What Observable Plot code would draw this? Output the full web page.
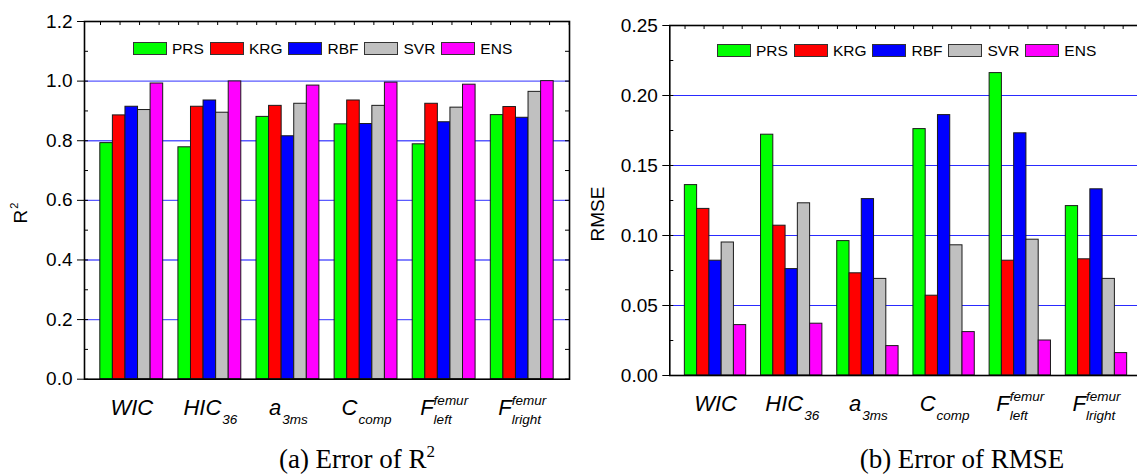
<!DOCTYPE html>
<html><head><meta charset="utf-8">
<script src="https://cdn.jsdelivr.net/npm/d3@7"></script>
<script src="https://cdn.jsdelivr.net/npm/@observablehq/plot@0.6"></script>
<style>
html,body{margin:0;padding:0;background:#fff;overflow:hidden;}
#root{position:relative;width:1137px;height:474px;overflow:hidden;font-family:"Liberation Sans",Arial,sans-serif;color:#000;}
.panel{position:absolute;top:0;}
.panel svg{max-width:none !important;display:block;}
.legend{position:absolute;display:flex;align-items:center;font-size:15.5px;line-height:13px;white-space:nowrap;}
.legend .item{display:flex;align-items:center;margin-right:6px;}
.legend .sw{width:32px;height:11px;border:1px solid #333;margin-right:5px;}
.ylab{position:absolute;font-size:19px;line-height:19px;transform:translate(-50%,-50%) rotate(-90deg);white-space:nowrap;}
.ylab .sp{font-size:11px;position:relative;top:-9px;margin-left:1px;}
.cap{position:absolute;font-family:"Liberation Serif","Times New Roman",serif;font-size:27px;line-height:27px;transform:translateX(-50%);white-space:nowrap;}
.cap .sp{font-size:17px;position:relative;top:-11px;}
</style></head><body><div id="root"></div>
<script>
// ---- data ----
const categories = ["WIC","HIC36","a3ms","Ccomp","Fleft","Fright"];
const labelBase = ["WIC","HIC","a","C","F","F"];
const labelSub  = ["","36","3ms","comp","left","lright"];
const labelSup  = ["","","","","femur","femur"];
const models = ["PRS","KRG","RBF","SVR","ENS"];
const modelColors = ["#00ff00","#ff0000","#0000ff","#c0c0c0","#ff00ff"];

const r2PRS = [0.792,0.778,0.880,0.855,0.788,0.886];
const r2KRG = [0.885,0.914,0.917,0.935,0.924,0.913];
const r2RBF = [0.914,0.935,0.815,0.856,0.862,0.877];
const r2SVR = [0.903,0.894,0.924,0.917,0.911,0.964];
const r2ENS = [0.992,0.999,0.985,0.995,0.988,1.000];

const rmsePRS = [0.136,0.172,0.096,0.176,0.216,0.121];
const rmseKRG = [0.119,0.107,0.073,0.057,0.082,0.083];
const rmseRBF = [0.082,0.076,0.126,0.186,0.173,0.133];
const rmseSVR = [0.095,0.123,0.069,0.093,0.097,0.069];
const rmseENS = [0.036,0.037,0.021,0.031,0.025,0.016];

const r2Ticks = [0,0.2,0.4,0.6,0.8,1.0,1.2];
const r2Grid = [0.2,0.4,0.6,0.8,1.0];
const rmseTicks = [0,0.05,0.10,0.15,0.20,0.25];
const rmseGrid = [0.05,0.10,0.15,0.20];

// ---- helpers ----
const barW = 0.161;
function table(series) {
  const rows = [];
  series.forEach((vals, m) => vals.forEach((v, g) => rows.push({group: g, mi: m, model: models[m], value: v})));
  return rows;
}

function makeChart(o) {
  const plotH = o.height - o.mT - o.mB;
  const plotW = o.width - o.mL - o.mR;
  const yMax = o.yDomain[1];
  const xMin = o.xDomain[0], xMax = o.xDomain[1];
  const tickY = yMax / plotH * 4;
  const tickX = (xMax - xMin) / plotW * 4;
  const minor = d3.range(0, yMax + 1e-9, o.minorStep);
  const topTicks = d3.range(-0.4, xMax, 0.25);
  return Plot.plot({
    width: o.width, height: o.height,
    marginLeft: o.mL, marginRight: o.mR, marginTop: o.mT, marginBottom: o.mB,
    style: {fontFamily: '"Liberation Sans", Arial, sans-serif', color: "black", background: "white", overflow: "visible", maxWidth: "none"},
    x: {type: "linear", domain: o.xDomain, label: null},
    y: {domain: o.yDomain, label: null},
    color: {domain: models, range: modelColors},
    marks: [
      Plot.ruleY(o.grid, {stroke: o.gridColor, strokeWidth: o.gridWidth}),
      Plot.rectY(o.rows, {
        x1: d => d.group + (d.mi - 2.5) * barW,
        x2: d => d.group + (d.mi - 1.5) * barW,
        y: "value", fill: "model", stroke: "#1a1a1a", strokeWidth: 1
      }),
      Plot.ruleY(minor, {x1: xMin, x2: xMin + tickX, stroke: "black"}),
      Plot.ruleY(minor, {x1: xMax - tickX, x2: xMax, stroke: "black"}),
      Plot.ruleX(topTicks, {y1: yMax, y2: yMax - tickY, stroke: "black"}),
      Plot.frame({stroke: "black", strokeWidth: 1.6}),
      Plot.axisY({ticks: o.yTicks, tickFormat: o.fmt, tickSize: 7, tickPadding: 5, fontSize: 19, label: null}),
      Plot.axisX({ticks: d3.range(categories.length), tickFormat: i => categories[i], tickSize: 0, tickPadding: 20, fontSize: 22, label: null})
    ]
  });
}

function richLabels(svg) {
  const NS = "http://www.w3.org/2000/svg";
  svg.querySelectorAll("text").forEach(t => {
    const idx = categories.indexOf(t.textContent);
    if (idx < 0) return;
    t.textContent = "";
    t.setAttribute("text-anchor", "start");
    t.setAttribute("font-style", "italic");
    const mk = (s, size) => { const ts = document.createElementNS(NS, "tspan"); ts.textContent = s; if (size) ts.setAttribute("font-size", size); t.appendChild(ts); return ts; };
    const base = mk(labelBase[idx]);
    const bw = base.getComputedTextLength();
    let supW = 0, subW = 0;
    if (labelSup[idx]) {
      const sp = mk(labelSup[idx], 13.5);
      sp.setAttribute("dy", -10);
      supW = sp.getComputedTextLength();
    }
    if (labelSub[idx]) {
      const sb = mk(labelSub[idx], 13.5);
      if (supW) { sb.setAttribute("dx", -supW); sb.setAttribute("dy", 19); }
      else { sb.setAttribute("dy", 9); sb.setAttribute("dx", 1); }
      subW = sb.getComputedTextLength();
    }
    const total = bw + Math.max(supW, subW);
    t.setAttribute("x", -total / 2);
  });
}

function addLegend(root, left, top) {
  const lg = document.createElement("div");
  lg.className = "legend";
  lg.style.left = left + "px"; lg.style.top = top + "px";
  models.forEach((m, i) => {
    const it = document.createElement("div"); it.className = "item";
    const sw = document.createElement("div"); sw.className = "sw"; sw.style.background = modelColors[i];
    const tx = document.createElement("span"); tx.textContent = m;
    it.appendChild(sw); it.appendChild(tx); lg.appendChild(it);
  });
  root.appendChild(lg);
}

// ---- build ----
const root = document.getElementById("root");

const leftDiv = document.createElement("div");
leftDiv.className = "panel"; leftDiv.style.left = "0px"; leftDiv.style.width = "575px";
root.appendChild(leftDiv);
const leftChart = makeChart({
  rows: table([r2PRS, r2KRG, r2RBF, r2SVR, r2ENS]),
  width: 575, height: 420, mL: 84, mR: 6, mT: 21, mB: 41.3,
  xDomain: [-0.605, 5.605], yDomain: [0, 1.2], yTicks: r2Ticks, grid: r2Grid,
  fmt: d3.format(".1f"), minorStep: 0.1, gridColor: "#5a5aff", gridWidth: 1.4
});
leftDiv.appendChild(leftChart);
richLabels(leftChart);

const rightDiv = document.createElement("div");
rightDiv.className = "panel"; rightDiv.style.left = "575px"; rightDiv.style.width = "570px";
root.appendChild(rightDiv);
const rightChart = makeChart({
  rows: table([rmsePRS, rmseKRG, rmseRBF, rmseSVR, rmseENS]),
  width: 570, height: 420, mL: 94.3, mR: 3.3, mT: 25, mB: 45,
  xDomain: [-0.6, 5.6], yDomain: [0, 0.25], yTicks: rmseTicks, grid: rmseGrid,
  fmt: d3.format(".2f"), minorStep: 0.025, gridColor: "#2a2aff", gridWidth: 1
});
rightDiv.appendChild(rightChart);
richLabels(rightChart);

addLegend(root, 133, 42);
addLegend(root, 717, 44);

const yl1 = document.createElement("div"); yl1.className = "ylab";
yl1.style.left = "22px"; yl1.style.top = "213px";
yl1.innerHTML = 'R<span class="sp">2</span>';
root.appendChild(yl1);
const yl2 = document.createElement("div"); yl2.className = "ylab";
yl2.style.left = "597px"; yl2.style.top = "214px";
yl2.textContent = "RMSE";
root.appendChild(yl2);

const c1 = document.createElement("div"); c1.className = "cap";
c1.style.left = "357px"; c1.style.top = "446px";
c1.innerHTML = '(a) Error of R<span class="sp">2</span>';
root.appendChild(c1);
const c2 = document.createElement("div"); c2.className = "cap";
c2.style.left = "962px"; c2.style.top = "446px";
c2.textContent = "(b) Error of RMSE";
root.appendChild(c2);
</script></body></html>
